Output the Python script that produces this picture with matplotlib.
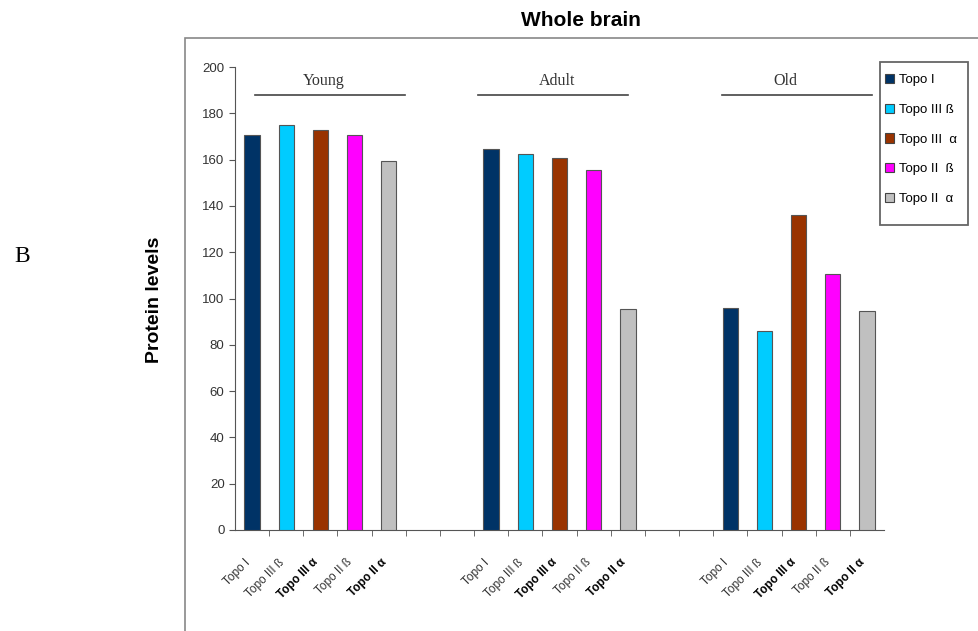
import numpy as np
import matplotlib
matplotlib.use("Agg")
import matplotlib.pyplot as plt
from matplotlib.patches import Rectangle

groups = ["Young", "Adult", "Old"]
proteins = ["Topo I", "Topo III ß", "Topo III α", "Topo II ß", "Topo II α"]
legend_labels = ["Topo I", "Topo III ß", "Topo III  α", "Topo II  ß", "Topo II  α"]
colors = ["#003366", "#00CCFF", "#993300", "#FF00FF", "#C0C0C0"]
bold_labels = [False, False, True, False, True]

young = [170.5, 175, 173, 170.5, 159.5]
adult = [164.5, 162.5, 160.5, 155.5, 95.5]
old = [96, 86, 136, 110.5, 94.5]
values = [young, adult, old]

# slot layout of the excel chart: 5 bars, 2 empty slots, 5 bars ...
group_start = [0, 7, 14]
n_slots = 19

def main():
  plt.rcParams["font.family"] = ["Liberation Sans", "DejaVu Sans"]
  fig = plt.figure(figsize=(9.79, 6.31), dpi=100)
  ax = fig.add_axes([235/979, 1-530/631, (884-235)/979, (530-67)/631])

  xpos, xlab, xbold = [], [], []
  for g, vals in enumerate(values):
    for i, v in enumerate(vals):
      x = group_start[g] + i
      ax.bar(x, v, width=0.45, color=colors[i], edgecolor="#555555", linewidth=0.8,
             label=legend_labels[i] if g == 0 else None, zorder=3)
      xpos.append(x); xlab.append(proteins[i]); xbold.append(bold_labels[i])

  ax.set_xlim(-0.5, n_slots - 0.5)
  ax.set_ylim(0, 200)
  ax.set_yticks(np.arange(0, 201, 20))
  ax.tick_params(axis="y", labelsize=9.5, labelcolor="#333333", length=4, color="#555555")

  ax.set_xticks(np.array(xpos) - 0.12)
  ax.set_xticklabels(xlab, rotation=45, ha="right", va="center", rotation_mode="anchor", fontsize=8.5, color="#333333")
  for t, b in zip(ax.get_xticklabels(), xbold):
    if b:
      t.set_fontweight("bold"); t.set_color("black")
  ax.tick_params(axis="x", length=0, pad=22)
  ax.set_xticks(np.arange(0.5, n_slots - 0.5, 1), minor=True)
  ax.tick_params(axis="x", which="minor", length=4, color="#555555")

  for s in ["top", "right"]:
    ax.spines[s].set_visible(False)
  for s in ["left", "bottom"]:
    ax.spines[s].set_color("#555555")

  # group headers with lines
  spans = [(0.08, 4.48), (6.61, 11.0), (13.76, 18.15)]
  centers = [2.1, 8.93, 15.6]
  for name, (a, b), c in zip(groups, spans, centers):
    ax.plot([a, b], [188, 188], color="#444444", lw=1.2, clip_on=False)
    ax.text(c, 190.5, name, ha="center", va="bottom", fontsize=11.5, family="Liberation Serif", color="#333333")

  leg = fig.legend(loc="upper left", bbox_to_anchor=(885/979, 1-74/631), fontsize=9.5,
                   handlelength=0.7, handleheight=0.7, handletextpad=0.35, labelspacing=1.32,
                   borderpad=0, borderaxespad=0, frameon=False)
  for h in leg.legend_handles:
    h.set_edgecolor("#444444")
  fig.patches.append(Rectangle((880/979, 1-225/631), 88/979, 163/631, transform=fig.transFigure,
                               fill=False, edgecolor="#666666", lw=1.3))

  fig.patches.append(Rectangle((185/979, -0.1), 1.0, 1-38/631+0.1, transform=fig.transFigure,
                               fill=False, edgecolor="#888888", lw=1.2))

  fig.text(581/979, 1-20/631, "Whole brain", ha="center", va="center", fontsize=15, fontweight="bold")
  fig.text(155/979, 1-300/631, "Protein levels", ha="center", va="center", rotation=90, fontsize=14, fontweight="bold")
  fig.text(22/979, 1-257/631, "B", ha="center", va="center", fontsize=17, family="Liberation Serif")

  fig.savefig("out.png", dpi=100)

if __name__ == "__main__":
  main()
